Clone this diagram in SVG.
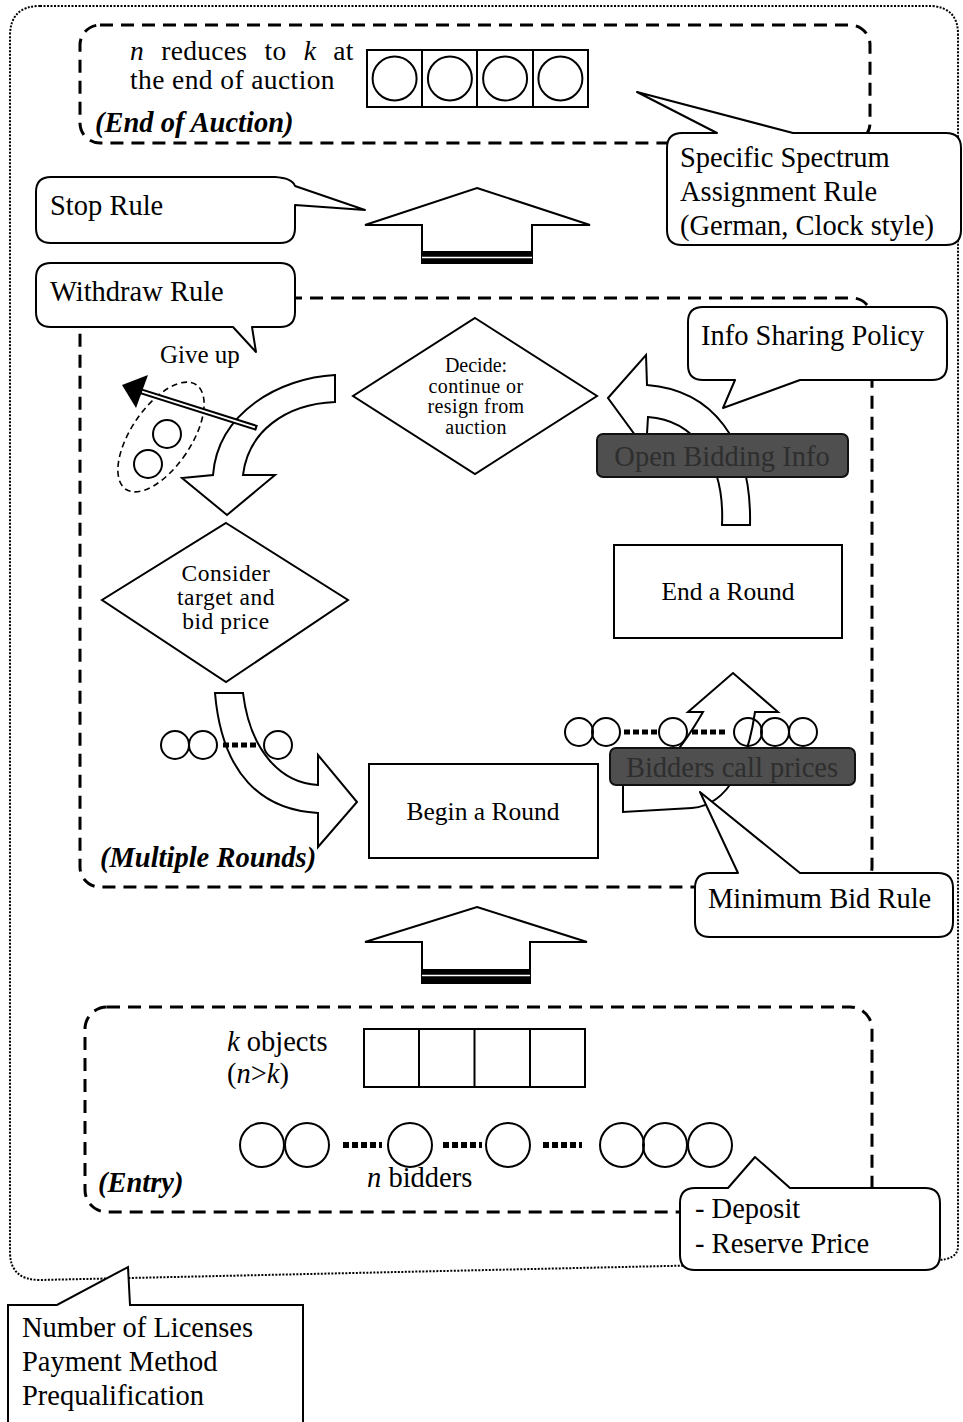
<svg xmlns="http://www.w3.org/2000/svg" width="963" height="1422" viewBox="0 0 963 1422">
<style>
.t{font-family:"Liberation Serif","Times New Roman",serif;font-size:28.5px;fill:#000}
.bi{font-weight:bold;font-style:italic}
.it{font-style:italic}
.dash{fill:none;stroke:#000;stroke-width:3;stroke-dasharray:13 8}
.shape{fill:#fff;stroke:#000;stroke-width:2;stroke-linejoin:miter}
.co{fill:#fff;stroke:#000;stroke-width:2;stroke-linejoin:round}
.ring{fill:none;stroke:#000;stroke-width:2}
.dots{stroke:#000;stroke-width:6;stroke-dasharray:6 3}
.dark{fill:#4f4f4f;stroke:#111;stroke-width:2}
.dt{font-family:"Liberation Serif","Times New Roman",serif;font-size:28.5px;fill:#2e2e2e}
</style>
<rect width="963" height="1422" fill="#fff"/>
<!-- outer dotted frame -->
<path d="M40,6 L932,6 Q958,8 958,34 L958,1246 Q958,1260 936,1260 L40,1280 Q10,1280 10,1252 L10,36 Q10,6 40,6 Z" fill="none" stroke="#000" stroke-width="2" stroke-dasharray="2 1.5"/>

<!-- stage frames -->
<g id="stage-end">
<rect class="dash" x="80" y="25" width="790" height="118" rx="20"/>
<text class="t" x="130" y="60" word-spacing="10" style="font-size:27.5px;letter-spacing:0.3px"><tspan class="it">n</tspan> reduces to <tspan class="it">k</tspan> at</text>
<text class="t" x="130" y="89" style="font-size:27.5px;letter-spacing:0.4px">the end of auction</text>
<text class="t bi" x="95" y="132">(End of Auction)</text>
<g class="ring">
<rect x="367" y="50" width="221" height="57"/>
<line x1="422" y1="50" x2="422" y2="107"/><line x1="477" y1="50" x2="477" y2="107"/><line x1="533" y1="50" x2="533" y2="107"/>
<circle cx="394.6" cy="78.5" r="22"/><circle cx="449.9" cy="78.5" r="22"/><circle cx="505.1" cy="78.5" r="22"/><circle cx="560.4" cy="78.5" r="22"/>
</g>
</g>

<g id="stage-rounds">
<rect class="dash" x="80" y="298" width="792" height="589" rx="20"/>
<text class="t bi" x="100" y="867">(Multiple Rounds)</text>
</g>

<g id="stage-entry">
<rect class="dash" x="85" y="1007" width="787" height="205" rx="22"/>
<text class="t" x="227" y="1051"><tspan class="it">k</tspan> objects</text>
<text class="t" x="227" y="1083">(<tspan class="it">n</tspan>&gt;<tspan class="it">k</tspan>)</text>
<g class="ring">
<rect x="364" y="1029" width="221" height="58"/>
<line x1="419" y1="1029" x2="419" y2="1087"/><line x1="474.5" y1="1029" x2="474.5" y2="1087"/><line x1="530" y1="1029" x2="530" y2="1087"/>
<circle cx="262" cy="1145" r="22"/><circle cx="307" cy="1145" r="22"/><circle cx="410" cy="1145" r="22"/><circle cx="508" cy="1145" r="22"/><circle cx="622" cy="1145" r="22"/><circle cx="665" cy="1145" r="22"/><circle cx="710" cy="1145" r="22"/>
</g>
<line class="dots" x1="343" y1="1145" x2="382" y2="1145"/>
<line class="dots" x1="443" y1="1145" x2="482" y2="1145"/>
<line class="dots" x1="543" y1="1145" x2="582" y2="1145"/>
<text class="t" x="367" y="1187"><tspan class="it">n</tspan> bidders</text>
<text class="t bi" x="98" y="1192">(Entry)</text>
</g>

<!-- connectors -->
<g id="connectors">
<polygon class="shape" points="477,188 590,225 532,225 532,263 422,263 422,225 365,225"/>
<rect x="422" y="251" width="110" height="13" fill="#000"/>
<line x1="422" y1="257.5" x2="532" y2="257.5" stroke="#fff" stroke-width="1.5"/>
<polygon class="shape" points="477,907 587,942 530,942 530,983 422,983 422,942 365,942"/>
<rect x="422" y="969" width="108" height="14" fill="#000"/>
<line x1="422" y1="975.5" x2="530" y2="975.5" stroke="#fff" stroke-width="1.5"/>
<path class="shape" d="M335,375 C280,378 218,412 213,475 L182,478 L227,515 L275,475 L243,475 C248,432 285,404 335,402 Z"/>
<path class="shape" d="M215,693 L243,693 C250,750 280,783 318,785 L318,755 L357,802 L318,847 L318,813 C262,810 222,775 215,693 Z"/>
<path class="shape" d="M703,712 L688,712 L733,673 L778,712 L755,712 C748,760 730,805 692,808 L623,812 L623,785 C655,782 678,755 703,712 Z"/>
<path class="shape" d="M608,398 L646,355 L647,385 C712,390 752,440 750,525 L722,525 C725,458 692,420 648,417 L646,450 Z"/>
</g>

<!-- nodes -->
<g id="node-decide">
<polygon class="shape" points="475,318 597,396 475,474 353,396"/>
<g text-anchor="middle">
<text class="t" x="476" y="372" style="font-size:20px">Decide:</text>
<text class="t" x="476" y="392.5" style="font-size:20px;letter-spacing:0.4px">continue or</text>
<text class="t" x="476" y="413" style="font-size:20px;letter-spacing:0.4px">resign from</text>
<text class="t" x="476" y="433.5" style="font-size:20px;letter-spacing:0.4px">auction</text>
</g>
</g>

<g id="node-giveup">
<text class="t" x="160" y="363" style="font-size:25px">Give up</text>
<ellipse cx="161" cy="437" rx="30" ry="63" transform="rotate(34 161 437)" fill="none" stroke="#000" stroke-width="1.6" stroke-dasharray="6 4"/>
<circle class="ring" cx="167" cy="434" r="14"/>
<circle class="ring" cx="148" cy="464" r="14"/>
<line x1="257" y1="428" x2="140" y2="391" stroke="#000" stroke-width="6"/>
<line x1="255" y1="427.4" x2="142" y2="391.6" stroke="#fff" stroke-width="1.8"/>
<polygon points="122,385 148,375 136,408" fill="#000"/>
</g>

<g id="node-consider">
<polygon class="shape" points="226,523 348,600 226,682 102,600"/>
<g text-anchor="middle">
<text class="t" x="226" y="581" style="font-size:23.5px;letter-spacing:0.5px">Consider</text>
<text class="t" x="226" y="605" style="font-size:23.5px;letter-spacing:0.5px">target and</text>
<text class="t" x="226" y="629" style="font-size:23.5px;letter-spacing:0.5px">bid price</text>
</g>
</g>

<g id="node-bidders-small">
<circle class="ring" cx="175" cy="745" r="14"/><circle class="ring" cx="203" cy="745" r="14"/><circle class="ring" cx="278" cy="745" r="14"/>
<line class="dots" x1="223" y1="745" x2="258" y2="745" style="stroke-width:5"/>
</g>

<g id="node-begin">
<rect class="shape" x="369" y="764" width="229" height="94"/>
<text class="t" x="483" y="820" text-anchor="middle" style="font-size:25.5px">Begin a Round</text>
</g>

<g id="node-end">
<rect class="shape" x="614" y="545" width="228" height="93"/>
<text class="t" x="728" y="600" text-anchor="middle" style="font-size:25.5px">End a Round</text>
</g>

<g id="node-open-info">
<rect class="dark" x="597" y="434" width="251" height="43" rx="6"/>
<text class="dt" x="722" y="466" text-anchor="middle">Open Bidding Info</text>
</g>

<g id="node-bidders-call">
<circle class="ring" cx="579" cy="732" r="14"/><circle class="ring" cx="606" cy="732" r="14"/><circle class="ring" cx="673" cy="732" r="14"/><circle class="ring" cx="748" cy="732" r="14"/><circle class="ring" cx="775" cy="732" r="14"/><circle class="ring" cx="803" cy="732" r="14"/>
<line class="dots" x1="624" y1="732" x2="657" y2="732" style="stroke-width:5"/>
<line class="dots" x1="692" y1="732" x2="726" y2="732" style="stroke-width:5"/>
<rect class="dark" x="610" y="748" width="245" height="37" rx="6"/>
<text class="dt" x="732" y="777" text-anchor="middle">Bidders call prices</text>
</g>

<!-- callouts -->
<g id="callout-spectrum">
<path class="co" d="M682,133 L717,133 L637,92 L793,133 L946,133 Q961,133 961,148 L961,230 Q961,245 946,245 L682,245 Q667,245 667,230 L667,148 Q667,133 682,133 Z"/>
<text class="t" x="680" y="167">Specific Spectrum</text>
<text class="t" x="680" y="201">Assignment Rule</text>
<text class="t" x="680" y="235">(German, Clock style)</text>
</g>

<g id="callout-stop">
<path class="co" d="M51,177 L275,177 Q292,178 295,186 L365,210 L295,205 L295,228 Q295,243 280,243 L51,243 Q36,243 36,228 L36,192 Q36,177 51,177 Z"/>
<text class="t" x="50" y="215">Stop Rule</text>
</g>

<g id="callout-withdraw">
<path class="co" d="M51,263 L280,263 Q295,263 295,278 L295,312 Q295,327 280,327 L252,327 L256,352 L233,327 L51,327 Q36,327 36,312 L36,278 Q36,263 51,263 Z"/>
<text class="t" x="50" y="301">Withdraw Rule</text>
</g>

<g id="callout-info">
<path class="co" d="M703,307 L932,307 Q947,307 947,322 L947,365 Q947,380 932,380 L800,380 L723,408 L735,380 L703,380 Q688,380 688,365 L688,322 Q688,307 703,307 Z"/>
<text class="t" x="701" y="345">Info Sharing Policy</text>
</g>

<g id="callout-minbid">
<path class="co" d="M710,873 L738,873 L700,792 L800,873 L938,873 Q953,873 953,888 L953,922 Q953,937 938,937 L710,937 Q695,937 695,922 L695,888 Q695,873 710,873 Z"/>
<text class="t" x="708" y="908">Minimum Bid Rule</text>
</g>

<g id="callout-deposit">
<path class="co" d="M695,1188 L728,1188 L755,1157 L790,1188 L925,1188 Q940,1188 940,1203 L940,1255 Q940,1270 925,1270 L695,1270 Q680,1270 680,1255 L680,1203 Q680,1188 695,1188 Z"/>
<text class="t" x="695" y="1218">- Deposit</text>
<text class="t" x="695" y="1253">- Reserve Price</text>
</g>

<g id="callout-licenses">
<path class="co" d="M8,1305 L57,1305 L128,1267 L130,1305 L303,1305 L303,1430 L8,1430 Z" style="stroke-linejoin:miter"/>
<text class="t" x="22" y="1337">Number of Licenses</text>
<text class="t" x="22" y="1371">Payment Method</text>
<text class="t" x="22" y="1405">Prequalification</text>
</g>
</svg>
